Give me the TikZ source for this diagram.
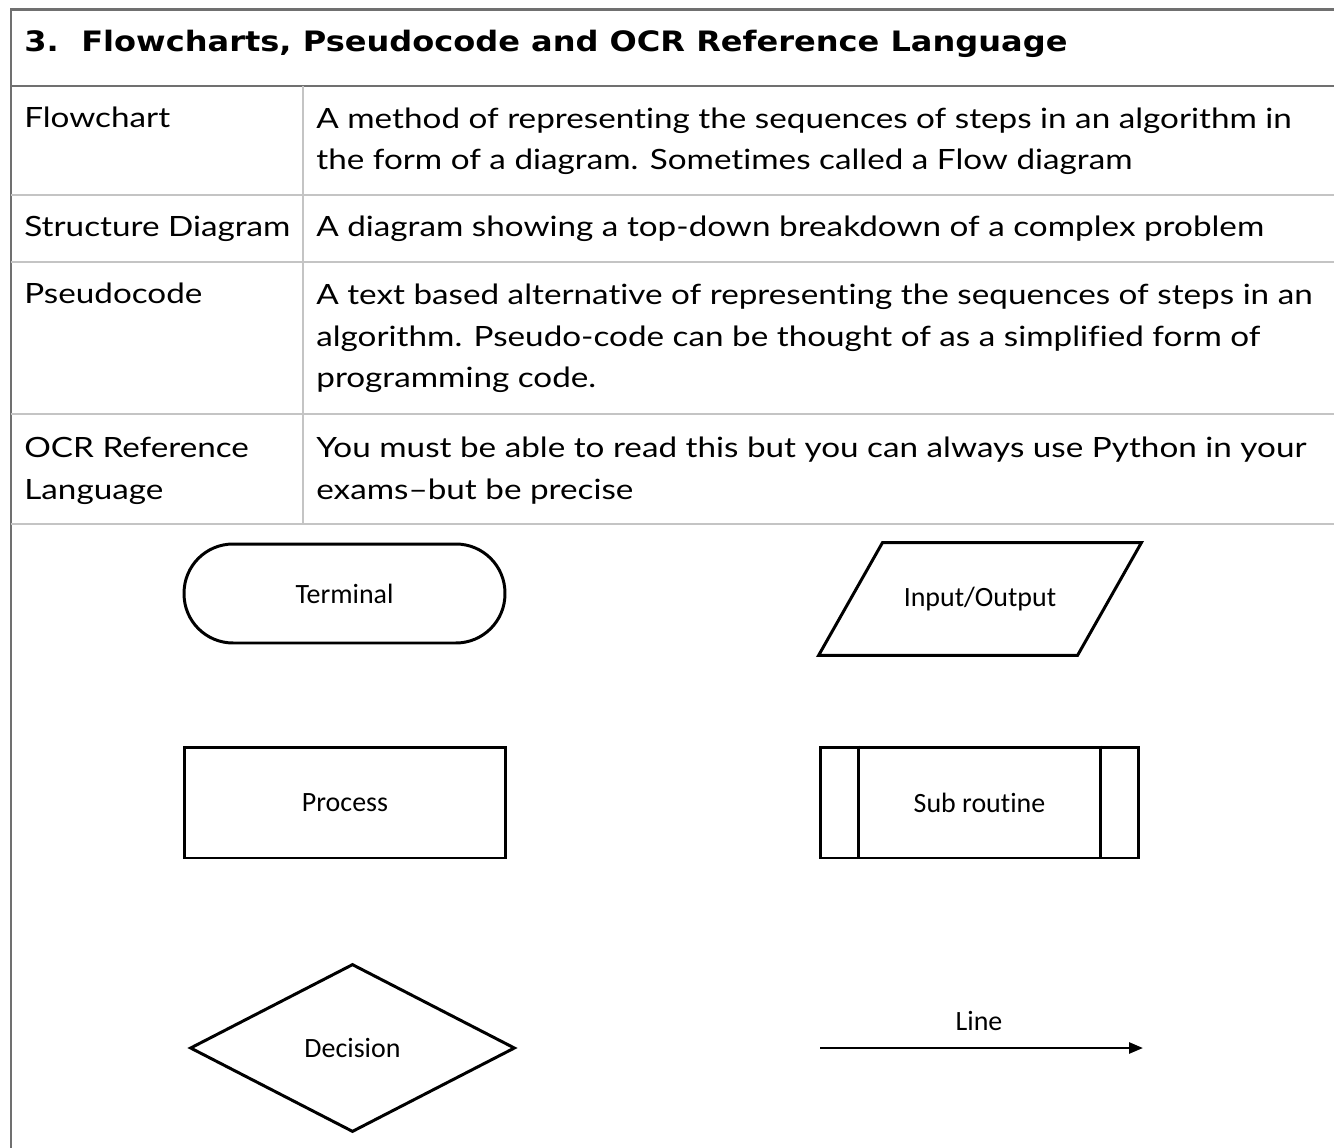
\documentclass[tikz,border=0pt]{standalone}
\usepackage{fontspec}
\setmainfont{Lato}[FakeStretch=1.19, Ligatures=NoCommon]
\newfontfamily\titlefont{DejaVu Sans}[FakeStretch=1.14]
\newfontfamily\shapefont{Carlito}[Ligatures=NoCommon]
\usetikzlibrary{arrows.meta,shapes.geometric}

\definecolor{darkrule}{HTML}{707070}
\definecolor{lightrule}{HTML}{C4C4C4}

\tikzset{
  cell/.style={anchor=base west, inner sep=0pt, align=left,
    font=\fontsize{15.9}{23.8}\selectfont},
  symbol/.style={draw, line width=1.7pt, font=\shapefont\fontsize{15.9}{18}\selectfont},
}

\begin{document}
\begin{tikzpicture}[x=0.02cm, y=-0.02cm]
\useasboundingbox (0,0) rectangle (1334,1148);
% table frame
\draw[darkrule, line width=1.7pt] (1334,10) -- (11,10) -- (11,1148);
\draw[darkrule, line width=1.7pt] (11,86) -- (1334,86);
\foreach \y in {195,262,414,524} \draw[lightrule, line width=1.4pt] (11,\y) -- (1334,\y);
\draw[lightrule, line width=1.4pt] (303,86) -- (303,524);
% title
\node[cell, font=\titlefont\bfseries\fontsize{16}{20}\selectfont] (title) at (24,52)
  {3.\hspace{0.8em}Flowcharts, Pseudocode and OCR Reference Language};
% rows (multi-line cells sit on their last baseline)
\node[cell] (flowTerm) at (24,128) {Flowchart};
\node[cell] (flowDef) at (316,170) {A method of representing the sequences of steps in an algorithm in\\the form of a diagram. Sometimes called a Flow diagram};
\node[cell] (structTerm) at (24,237) {Structure Diagram};
\node[cell] (structDef) at (316,237) {A diagram showing a top-down breakdown of a complex problem};
\node[cell] (pseudoTerm) at (24,304) {Pseudocode};
\node[cell] (pseudoDef) at (316,388) {A text based alternative of representing the sequences of steps in an\\algorithm. Pseudo-code can be thought of as a simplified form of\\programming code.};
\node[cell] (ocrTerm) at (24,499) {OCR Reference\\Language};
\node[cell] (ocrDef) at (316,499) {You must be able to read this but you can always use Python in your\\exams--but be precise};

% symbols
\node[symbol, minimum width=6.42cm, minimum height=1.98cm, rounded corners=0.98cm] (terminal) at (344.5,593.5) {Terminal};
\node[symbol, draw=none, minimum width=5.12cm, minimum height=2.2cm] (inout) at (980,599) {Input/Output};
\draw[line width=1.7pt] ([xshift=-0.64cm]inout.south west) -- ([xshift=0.64cm]inout.north west)
  -- ([xshift=0.64cm]inout.north east) -- ([xshift=-0.64cm]inout.south east) -- cycle;
\node[symbol, minimum width=6.44cm, minimum height=2.22cm] (process) at (345,802.5) {Process};
\node[symbol, minimum width=6.38cm, minimum height=2.22cm] (subroutine) at (979.5,802.5) {Sub routine};
\draw[line width=1.7pt] ([xshift=0.8cm]subroutine.north west) -- ([xshift=0.8cm]subroutine.south west);
\draw[line width=1.7pt] ([xshift=-0.8cm]subroutine.north east) -- ([xshift=-0.8cm]subroutine.south east);
\node[symbol, diamond, minimum width=6.5cm, minimum height=3.36cm] (decision) at (352.5,1048) {Decision};
% line
\coordinate (lineStart) at (820,1048);
\coordinate (lineEnd) at (1143,1048);
\draw[line width=1.5pt, -{Triangle[length=0.28cm,width=0.22cm]}] (lineStart) -- (lineEnd);
\node[font=\shapefont\fontsize{15.9}{18}\selectfont] (lineLabel) at (979,1021) {Line};
\end{tikzpicture}
\end{document}
